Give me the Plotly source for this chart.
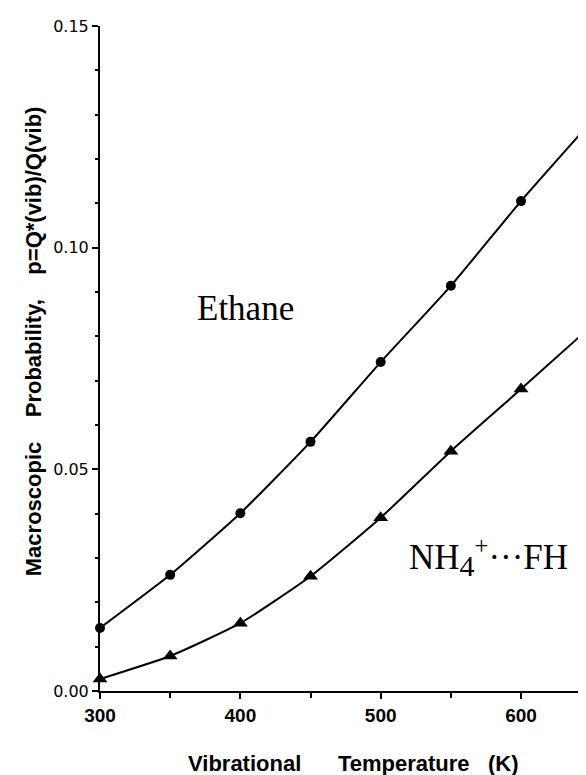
import plotly.graph_objects as go

temperature = [300, 350, 400, 450, 500, 550, 600, 650]
ethane = [0.0142, 0.0262, 0.0401, 0.0562, 0.0742, 0.0914, 0.1105, 0.1284]
nh4_fh = [0.0027, 0.0079, 0.0153, 0.0259, 0.0391, 0.0541, 0.0681, 0.0823]

y_ticks = [0.00, 0.05, 0.10, 0.15]
x_ticks = [300, 400, 500, 600]

NB = "\u00a0"
x_title = "Vibrational" + NB * 6 + "Temperature" + NB * 3 + "(K)"
y_title = "Macroscopic" + NB * 4 + "Probability," + NB * 4 + "p=Q*(vib)/Q(vib)"

fig = go.Figure()
fig.add_trace(go.Scatter(
    x=temperature, y=ethane, mode="lines+markers",
    line=dict(color="black", width=2, shape="spline", smoothing=0.5),
    marker=dict(symbol="circle", size=10, color="black"),
    showlegend=False, cliponaxis=False,
))
fig.add_trace(go.Scatter(
    x=temperature, y=nh4_fh, mode="lines+markers",
    line=dict(color="black", width=2, shape="spline", smoothing=0.5),
    marker=dict(symbol="triangle-up", size=13, color="black"),
    showlegend=False, cliponaxis=False,
))

fig.update_layout(
    width=586, height=775, autosize=False,
    margin=dict(l=92, r=0, t=18, b=92),
    paper_bgcolor="white", plot_bgcolor="white",
    font=dict(family="Liberation Sans, Arial, sans-serif", color="black"),
    xaxis=dict(
        range=[300, 652], tickvals=x_ticks, ticktext=[str(v) for v in x_ticks],
        showgrid=False, zeroline=False, showline=True, linecolor="black", linewidth=2,
        ticks="outside", ticklen=6, tickwidth=2, tickcolor="black",
        tickfont=dict(family="Liberation Sans, Arial, sans-serif", size=19, color="black", weight="bold"),
        minor=dict(dtick=50, tick0=300, ticks="outside", ticklen=5, tickwidth=2, tickcolor="black"),
    ),
    yaxis=dict(
        range=[0, 0.15], tickvals=y_ticks, ticktext=["%.2f" % v for v in y_ticks],
        showgrid=False, zeroline=False, showline=True, linecolor="black", linewidth=2,
        ticks="outside", ticklen=6, tickwidth=2, tickcolor="black",
        tickfont=dict(family="DejaVu Sans, sans-serif", size=16, color="black"),
        minor=dict(dtick=0.01, tick0=0, ticks="outside", ticklen=3, tickwidth=2, tickcolor="black"),
    ),
    annotations=[
        dict(text="Ethane", x=404, y=0.0862, xref="x", yref="y", showarrow=False,
             xanchor="center", yanchor="middle",
             font=dict(family="Liberation Serif, Times New Roman, serif", size=35, color="black")),
        dict(text="NH<sub><span style='font-size:30px'>4</span></sub><sup>+</sup>\u00b7\u00b7\u00b7FH",
             x=519, y=0.0302, xref="x", yref="y",
             showarrow=False, xanchor="left", yanchor="middle",
             font=dict(family="Liberation Serif, Times New Roman, serif", size=35, color="black")),
        dict(text="<b>" + x_title + "</b>", x=0.5, y=0, xref="paper", yref="paper",
             xanchor="center", yanchor="middle", yshift=-72, xshift=6, showarrow=False,
             font=dict(family="Liberation Sans, Arial, sans-serif", size=22, color="black")),
        dict(text="<b>" + y_title + "</b>", x=0, y=0.526, xref="paper", yref="paper",
             xanchor="center", yanchor="middle", xshift=-67, textangle=-90, showarrow=False,
             font=dict(family="Liberation Sans, Arial, sans-serif", size=22, color="black")),
    ],
)

fig.write_html("out.html")
